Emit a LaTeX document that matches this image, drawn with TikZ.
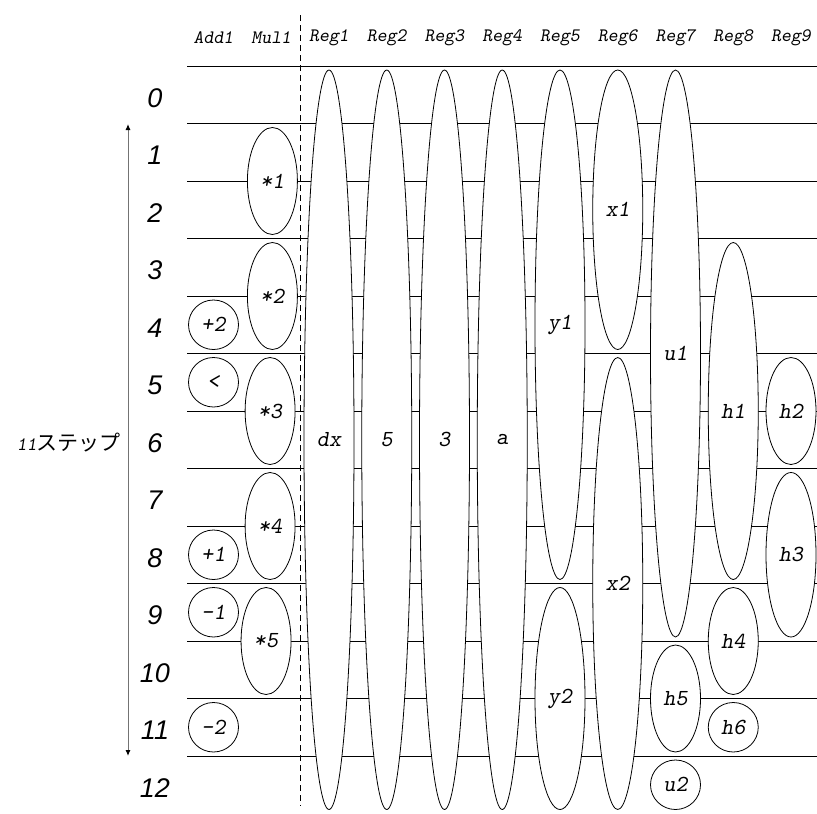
\documentclass[tikz,border=0pt]{standalone}
\usepackage{fontspec}
\setsansfont{Liberation Sans}
\newfontfamily\jpfont{Noto Sans CJK JP}
\usetikzlibrary{shapes.geometric, arrows.meta, positioning, calc}

\begin{document}
\begin{tikzpicture}[x=1pt, y=-1pt,
    lifebox/.style={draw, fill=white, ellipse, inner sep=0pt, line width=0.8pt,
      minimum width=50pt, font=\ttfamily\slshape\fontsize{23}{23}\selectfont},
    unitname/.style={font=\ttfamily\slshape\fontsize{19}{19}\selectfont},
    stepnum/.style={font=\sffamily\itshape\fontsize{27}{27}\selectfont}]

  \useasboundingbox (0,0) rectangle (817,814);

  \def\rowH{57.5}
  \def\rowT{66}
  \def\colW{57.75}

  % step lines
  \foreach \k in {0,...,12}{
    \pgfmathsetmacro{\yl}{\rowT+\k*\rowH}
    \draw[line width=0.8pt] (187,\yl) -- (817,\yl);
  }

  % unit names along the top
  \foreach \lab [count=\c from -1] in {Add1,Mul1,Reg1,Reg2,Reg3,Reg4,Reg5,Reg6,Reg7,Reg8,Reg9}{
    \pgfmathsetmacro{\xc}{329+(\c-1)*\colW}
    \node[unitname] (unit\c) at (\xc,38) {\lab};
  }

  % step numbers
  \foreach \k in {0,...,12}{
    \pgfmathsetmacro{\yc}{\rowT+(\k+0.5)*\rowH+3}
    \node[stepnum] (num\k) at (155,\yc) {\k};
  }

  % lifetimes: name, column, first step, last step, label
  \def\lifespan#1#2#3#4#5{%
    \pgfmathsetmacro{\xc}{329+(#2-1)*\colW}
    \pgfmathsetmacro{\ytop}{\rowT+#3*\rowH+4}
    \pgfmathsetmacro{\ybot}{\rowT+(#4+1)*\rowH-4}
    \pgfmathsetmacro{\ymid}{(\ytop+\ybot)/2}
    \pgfmathsetmacro{\hgt}{\ybot-\ytop}
    \node[lifebox, minimum height=\hgt pt] (#1) at (\xc,\ymid) {#5};
  }
  % Add1
  \lifespan{add2}{-1}{4}{4}{+2}
  \lifespan{cmp}{-1}{5}{5}{<}
  \lifespan{add1}{-1}{8}{8}{+1}
  \lifespan{sub1}{-1}{9}{9}{-1}
  \lifespan{sub2}{-1}{11}{11}{-2}
  % Mul1
  \lifespan{mul1}{0.02}{1}{2}{*1}
  \lifespan{mul2}{0.02}{3}{4}{*2}
  \lifespan{mul3}{-0.02}{5}{6}{*3}
  \lifespan{mul4}{-0.02}{7}{8}{*4}
  \lifespan{mul5}{-0.09}{9}{10}{*5}
  % registers
  \lifespan{dx}{1}{0}{12}{dx}
  \lifespan{five}{2}{0}{12}{5}
  \lifespan{three}{3}{0}{12}{3}
  \lifespan{a}{4}{0}{12}{a}
  \lifespan{y1}{5}{0}{8}{y1}
  \lifespan{y2}{5}{9}{12}{y2}
  \lifespan{x1}{6}{0}{4}{x1}
  \lifespan{x2}{6}{5}{12}{x2}
  \lifespan{u1}{7}{0}{9}{u1}
  \lifespan{h5}{7}{10}{11}{h5}
  \lifespan{u2}{7}{12}{12}{u2}
  \lifespan{h1}{8}{3}{8}{h1}
  \lifespan{h4}{8}{9}{10}{h4}
  \lifespan{h6}{8}{11}{11}{h6}
  \lifespan{h2}{9}{5}{6}{h2}
  \lifespan{h3}{9}{7}{9}{h3}

  % split between units and registers
  \coordinate (cutTop) at (300,15);
  \coordinate (cutBot) at (300,806);
  \draw[dash pattern=on 6pt off 4pt, line width=0.8pt] (cutTop) -- (cutBot);

  % total steps
  \coordinate (spanTop) at (128,124);
  \coordinate (spanBot) at (128,756);
  \draw[draw=black!55, line width=1pt,
    {Latex[length=6pt,width=5pt,black]}-{Latex[length=6pt,width=5pt,black]}]
    (spanTop) -- (spanBot);
  \node[anchor=east, inner sep=0pt] (spanlabel) at (121,443)
    {{\ttfamily\slshape\fontsize{19}{19}\selectfont 11}{\jpfont\fontsize{21}{21}\selectfont ステップ}};
\end{tikzpicture}
\end{document}
